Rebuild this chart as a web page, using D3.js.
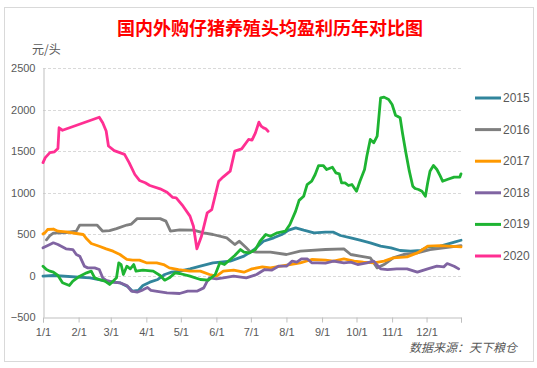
<!DOCTYPE html>
<html>
<head>
<meta charset="utf-8">
<script src="https://cdn.jsdelivr.net/npm/d3@7"></script>
<style>
  body { margin: 0; background: #fff; }
  svg { display: block; }
  text { font-family: "Liberation Sans", "Noto Sans CJK SC", sans-serif; }
</style>
</head>
<body>
<script>
// 每个年份：日期(月/日) + 头均盈利(元/头)
var years = ["2015","2016","2017","2018","2019","2020"];
var colors = ["#31859c","#7f7f7f","#ff9900","#8064a2","#1eb432","#ff2f92"];
var yTicks = [-500, 0, 500, 1000, 1500, 2000, 2500];

var dates2015 = ["1/1","1/10","2/11","2/25","3/9","3/16","3/20","3/25","3/29","4/4","4/11","4/17","4/23","4/30","5/9","5/18","5/29","6/13","6/25","7/4","7/12","7/21","7/28","8/3","8/9","8/16","8/25","9/4","9/11","9/17","9/26","10/4","10/13","10/22","10/31","11/8","11/17","11/26","12/2","12/13","12/23","12/26","12/31"];
var values2015 = [-8,0,-28,-68,-88,-137,-189,-180,-120,-80,-48,12,40,52,80,112,153,173,233,313,413,454,494,546,574,546,514,522,522,482,454,425,394,353,333,301,293,301,345,353,394,406,425];

var dates2016 = ["1/4","1/7","1/10","1/21","1/30","2/2","2/17","2/22","2/28","3/6","3/15","3/19","3/24","4/1","4/13","4/18","4/22","4/30","5/12","5/21","5/29","6/10","6/17","6/21","6/27","6/30","7/6","7/18","8/1","8/13","9/4","9/20","9/26","10/4","10/13","10/19","10/25","11/2","11/11","11/23","12/4","12/16","12/31"];
var values2016 = [430,480,510,518,534,608,608,534,540,565,608,620,685,685,685,655,534,550,546,514,494,454,373,413,333,293,281,281,253,293,313,321,253,233,213,92,132,213,253,273,313,333,361];

var dates2017 = ["1/1","1/3","1/5","1/10","1/14","1/21","1/30","2/5","2/8","2/12","2/19","2/25","3/3","3/9","3/15","3/20","3/26","4/1","4/10","4/16","4/21","4/29","5/9","5/18","5/26","6/1","6/7","6/16","6/25","7/2","7/11","7/18","7/27","8/4","8/13","8/23","9/4","9/11","9/20","9/29","10/7","10/16","10/25","11/2","11/14","11/23","12/2","12/13","12/31"];
var values2017 = [500,520,554,560,534,526,506,494,442,386,353,321,293,253,193,185,185,153,153,132,92,72,52,52,12,-8,52,64,40,80,104,92,112,132,153,193,185,173,201,173,161,153,173,213,225,273,353,361,345];

var dates2018 = ["1/1","1/7","1/10","1/14","1/21","1/27","1/30","2/2","2/6","2/9","2/15","2/19","2/22","2/25","3/3","3/9","3/15","3/19","3/24","3/29","4/2","4/5","4/9","4/19","4/30","5/7","5/15","5/21","5/24","5/26","6/1","6/7","6/16","6/27","7/6","7/13","7/19","7/25","8/1","8/6","8/10","8/14","8/19","8/23","8/28","9/4","9/11","9/20","9/26","10/2","10/10","10/16","10/22","10/28","11/5","11/14","11/23","12/2","12/10","12/16","12/19","12/25","12/29"];
var values2018 = [333,373,394,373,321,313,253,233,112,92,92,72,-28,-60,-80,-88,-120,-189,-201,-173,-145,-180,-189,-209,-217,-189,-189,-149,-68,-28,-40,-28,-8,-28,12,72,64,112,112,173,161,201,201,153,153,150,173,153,161,132,153,173,80,72,80,80,40,80,112,104,144,112,80];

var dates2019 = ["1/1","1/4","1/7","1/10","1/14","1/18","1/24","1/27","2/2","2/8","2/12","2/15","2/19","2/24","2/28","3/3","3/6","3/8","3/10","3/12","3/15","3/18","3/21","3/23","3/29","4/7","4/13","4/17","4/21","4/26","4/30","5/9","5/18","5/25","5/31","6/4","6/8","6/13","6/17","6/22","6/25","6/30","7/5","7/9","7/14","7/18","7/24","7/31","8/4","8/9","8/12","8/16","8/19","8/23","8/26","8/29","9/2","9/5","9/10","9/13","9/16","9/18","9/21","9/24","9/27","10/1","10/4","10/8","10/10","10/13","10/16","10/19","10/22","10/25","10/29","11/1","11/4","11/8","11/10","11/13","11/16","11/19","11/21","11/24","11/27","11/30","12/2","12/4","12/7","12/10","12/13","12/15","12/19","12/25","12/30","12/31"];
var values2019 = [112,72,52,40,0,-88,-120,-68,-8,32,52,-28,-48,-68,-108,-68,-28,153,132,12,112,80,132,52,64,52,0,-56,-28,32,24,-8,-48,-56,12,153,132,193,241,313,281,273,313,413,494,473,514,534,614,775,905,955,1096,1136,1217,1325,1325,1277,1305,1237,1225,1117,1117,1084,1096,1016,1136,1277,1437,1639,1599,1679,2141,2149,2120,2060,1931,1900,1719,1478,1257,1076,1048,1036,1016,955,1117,1257,1325,1277,1197,1136,1157,1185,1185,1225];

var dates2020 = ["1/1","1/3","1/7","1/11","1/14","1/15","1/18","2/19","2/22","2/25","2/27","3/4","3/13","3/17","3/22","3/26","3/31","4/4","4/13","4/19","4/24","4/27","5/3","5/9","5/12","5/15","5/19","5/24","5/28","6/3","6/7","6/13","6/17","6/23","6/29","7/2","7/5","7/8","7/10","7/12","7/14","7/16"];
var values2020 = [1361,1420,1480,1490,1530,1780,1750,1907,1840,1740,1560,1505,1460,1360,1217,1145,1117,1084,1044,1004,940,936,835,715,594,322,473,755,795,1136,1189,1257,1498,1526,1639,1630,1719,1847,1799,1779,1767,1739];

var allDates = [dates2015, dates2016, dates2017, dates2018, dates2019, dates2020];
var allValues = [values2015, values2016, values2017, values2018, values2019, values2020];

var W = 537, H = 368;
var plot = {left: 43, right: 461, top: 68, bottom: 317};

function parseMD(s) {
  var p = s.split("/");
  return new Date(2019, +p[0] - 1, +p[1]);
}

var series = years.map(function(y, i) {
  return allDates[i].map(function(d, j) {
    return {date: parseMD(d), value: allValues[i][j]};
  });
});

var xScale = d3.scaleTime()
  .domain([new Date(2019, 0, 1), new Date(2019, 11, 31)])
  .range([plot.left, plot.right]);

var yScale = d3.scaleLinear()
  .domain([-500, 2500])
  .range([plot.bottom, plot.top]);

var svg = d3.select("body")
  .append("svg")
  .attr("width", W)
  .attr("height", H);

// 外框
svg.append("rect")
  .attr("x", 4.5).attr("y", 7.5)
  .attr("width", 529).attr("height", 354)
  .attr("fill", "#fff")
  .attr("stroke", "#d9d9d9");

// 网格线
svg.append("g")
  .selectAll("line")
  .data(yTicks.filter(function(t) { return t > -500; }))
  .enter()
  .append("line")
  .attr("x1", plot.left).attr("x2", plot.right)
  .attr("y1", function(d) { return Math.round(yScale(d)) + 0.5; })
  .attr("y2", function(d) { return Math.round(yScale(d)) + 0.5; })
  .attr("stroke", "#d9d9d9")
  .attr("stroke-dasharray", "3,2");

// y 轴
var yAxis = d3.axisLeft(yScale)
  .tickValues(yTicks)
  .tickFormat(d3.format("d"))
  .tickSize(0)
  .tickPadding(8);

var gy = svg.append("g")
  .attr("transform", "translate(" + (plot.left + 0.5) + ",0)")
  .call(yAxis);
gy.select(".domain").attr("stroke", "#bfbfbf");
gy.selectAll("text")
  .attr("fill", "#595959")
  .style("font-size", "11px");

// x 轴
var xAxis = d3.axisBottom(xScale)
  .tickValues(d3.timeMonth.range(new Date(2019, 0, 1), new Date(2020, 0, 1)).concat([new Date(2019, 11, 31)]))
  .tickSize(5)
  .tickPadding(6)
  .tickFormat(function(d) {
    return d.getMonth() === 11 && d.getDate() === 31 ? "" : (d.getMonth() + 1) + "/1";
  });

var gx = svg.append("g")
  .attr("transform", "translate(0," + (plot.bottom + 0.5) + ")")
  .call(xAxis);
gx.select(".domain").attr("stroke", "#bfbfbf");
gx.selectAll(".tick line").attr("stroke", "#bfbfbf");
gx.selectAll("text")
  .attr("fill", "#595959")
  .style("font-size", "11px");

// 折线
var line = d3.line()
  .x(function(d) { return xScale(d.date); })
  .y(function(d) { return yScale(d.value); });

svg.append("g")
  .selectAll("path")
  .data(series)
  .enter()
  .append("path")
  .attr("d", line)
  .attr("fill", "none")
  .attr("stroke", function(d, i) { return colors[i]; })
  .attr("stroke-width", 2.8)
  .attr("stroke-linejoin", "round")
  .attr("stroke-linecap", "round");

// 图例
var legend = svg.append("g")
  .selectAll("g")
  .data(years)
  .enter()
  .append("g")
  .attr("transform", function(d, i) { return "translate(475," + (98 + i * 31.6) + ")"; });

legend.append("line")
  .attr("x1", 0).attr("x2", 26)
  .attr("stroke", function(d, i) { return colors[i]; })
  .attr("stroke-width", 3);

legend.append("text")
  .attr("x", 28).attr("y", 4)
  .attr("fill", "#595959")
  .style("font-size", "12px")
  .text(function(d) { return d; });

// 标题
svg.append("text")
  .attr("x", 270).attr("y", 35)
  .attr("text-anchor", "middle")
  .attr("fill", "#ff0000")
  .style("font-family", "Noto Sans CJK SC")
  .style("font-size", "18px")
  .style("font-weight", "bold")
  .text("国内外购仔猪养殖头均盈利历年对比图");

svg.append("text")
  .attr("x", 32).attr("y", 54)
  .attr("fill", "#595959")
  .style("font-family", "Noto Sans CJK SC")
  .style("font-size", "12px")
  .text("元/头");

svg.append("text")
  .attr("x", 517).attr("y", 352)
  .attr("text-anchor", "end")
  .attr("fill", "#595959")
  .style("font-family", "Noto Sans CJK SC")
  .style("font-size", "12px")
  .style("font-style", "italic")
  .text("数据来源：天下粮仓");
</script>
</body>
</html>
